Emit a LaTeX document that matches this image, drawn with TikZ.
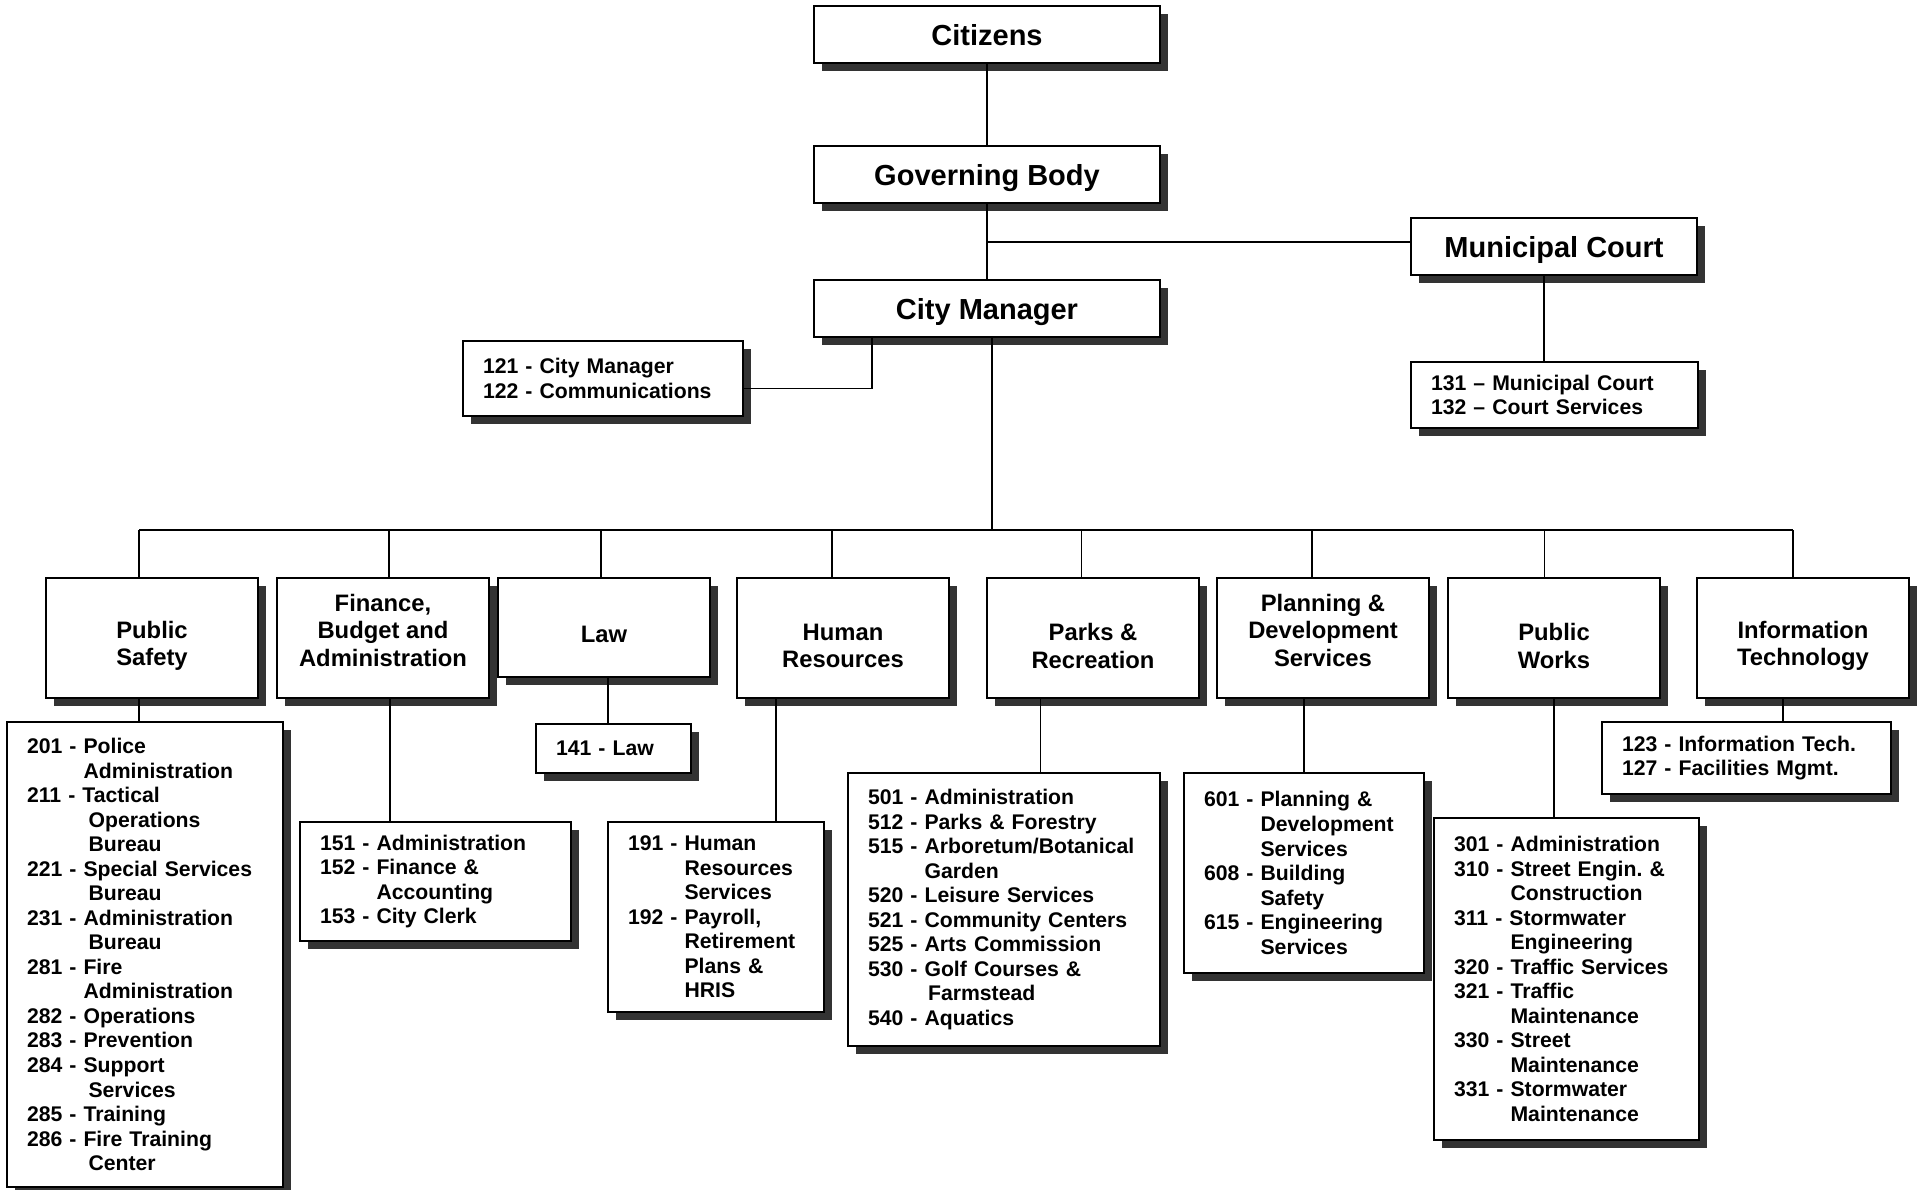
\documentclass[tikz,border=0pt]{standalone}
\usepackage{fontspec}
\setmainfont{Liberation Sans}
\usetikzlibrary{shadows}

\newcommand{\cont}{\phantom{000 - }}
\newcommand{\contx}{\cont\hspace*{3.75pt}}

\begin{document}
\begin{tikzpicture}[x=0.75pt, y=-0.75pt]

  % Styles
  \tikzset{
    box/.style={draw=black, fill=white, line width=1.4pt, outer sep=0pt, anchor=north west,
      drop shadow={shadow xshift=6pt, shadow yshift=-6pt, fill=black!80, opacity=1}},
    head/.style={box, minimum width=259.5pt, minimum height=42.75pt, text depth=0pt,
      font=\fontsize{21.75}{25}\selectfont\bfseries},
    dept/.style={box, minimum width=159pt, minimum height=90pt},
    dept text/.style={align=center, inner sep=0pt,
      font=\fontsize{17.85}{20.7}\selectfont\bfseries},
    unit/.style={box, align=left, inner xsep=15pt,
      font=\fontsize{15.9}{18.4}\selectfont\bfseries},
    link/.style={draw=black, line width=1.4pt}
  }

  \useasboundingbox (0,0) rectangle (1923,1189);

  % --- TOP OF THE CHART ---
  \node[head] (cit) at (814,6) {Citizens};
  \node[head] (gov) at (814,146) {Governing Body};
  \node[head] (cm) at (814,280) {City Manager};
  \node[head, minimum width=214.5pt] (mc) at (1411,218) {Municipal Court};

  \node[unit, text width=180pt, minimum height=56.25pt] (cmsub) at (463,341)
    {121 - City Manager\\122 - Communications};
  \node[unit, text width=185.25pt, minimum height=49.5pt] (mcsub) at (1411,362)
    {131 -- Municipal Court\\132 -- Court Services};

  % --- DEPARTMENTS ---
  \node[dept] (ps) at (46,578) {};
  \node[dept] (fin) at (277,578) {};
  \node[dept, minimum height=74.25pt] (law) at (498,578) {};
  \node[dept] (hr) at (737,578) {};
  \node[dept] (parks) at (987,578) {};
  \node[dept] (plan) at (1217,578) {};
  \node[dept] (pw) at (1448,578) {};
  \node[dept] (it) at (1697,578) {};

  \node[dept text] (pstext) at ([yshift=-6pt]ps.center) {Public\\Safety};
  \node[dept text] (fintext) at ([yshift=5.8pt]fin.center) {Finance,\\Budget and\\Administration};
  \node[dept text] (lawtext) at ([yshift=-5.5pt]law.center) {Law};
  \node[dept text] (hrtext) at ([yshift=-6pt]hr.center) {Human\\Resources};
  \node[dept text] (parkstext) at ([yshift=-6pt]parks.center) {Parks \&\\Recreation};
  \node[dept text] (plantext) at ([yshift=5.8pt]plan.center) {Planning \&\\Development\\Services};
  \node[dept text] (pwtext) at ([yshift=-6pt]pw.center) {Public\\Works};
  \node[dept text] (ittext) at ([yshift=-6pt]it.center) {Information\\Technology};

  % --- DIVISIONS ---
  \node[unit, text width=177pt, minimum height=348.75pt] (pssub) at (7,722) {
    201 - Police\\
    \cont Administration\\
    211 - Tactical\\
    \contx Operations\\
    \contx Bureau\\
    221 - Special Services\\
    \contx Bureau\\
    231 - Administration\\
    \contx Bureau\\
    281 - Fire\\
    \cont Administration\\
    282 - Operations\\
    283 - Prevention\\
    284 - Support\\
    \contx Services\\
    285 - Training\\
    286 - Fire Training\\
    \contx Center};
  \node[unit, text width=173.25pt, minimum height=89.25pt] (finsub) at (300,822) {
    151 - Administration\\
    152 - Finance \&\\
    \cont Accounting\\
    153 - City Clerk};
  \node[unit, text width=86.25pt, minimum height=36.75pt] (lawsub) at (536,724) {141 - Law};
  \node[unit, text width=132pt, minimum height=142.5pt] (hrsub) at (608,822) {
    191 - Human\\
    \cont Resources\\
    \cont Services\\
    192 - Payroll,\\
    \cont Retirement\\
    \cont Plans \&\\
    \cont HRIS};
  \node[unit, text width=204pt, minimum height=204.75pt] (parksub) at (848,773) {
    501 - Administration\\
    512 - Parks \& Forestry\\
    515 - Arboretum/Botanical\\
    \cont Garden\\
    520 - Leisure Services\\
    521 - Community Centers\\
    525 - Arts Commission\\
    530 - Golf Courses \&\\
    \cont\,Farmstead\\
    540 - Aquatics};
  \node[unit, text width=150pt, minimum height=150pt] (plansub) at (1184,773) {
    601 - Planning \&\\
    \cont Development\\
    \cont Services\\
    608 - Building\\
    \cont Safety\\
    615 - Engineering\\
    \cont Services};
  \node[unit, text width=168.75pt, minimum height=241.5pt] (pwsub) at (1434,818) {
    301 - Administration\\
    310 - Street Engin.\ \&\\
    \cont Construction\\
    311 - Stormwater\\
    \cont Engineering\\
    320 - Traffic Services\\
    321 - Traffic\\
    \cont Maintenance\\
    330 - Street\\
    \cont Maintenance\\
    331 - Stormwater\\
    \cont Maintenance};
  \node[unit, text width=186.75pt, minimum height=54pt] (itsub) at (1602,722) {
    123 - Information Tech.\\
    127 - Facilities Mgmt.};

  % --- UPPER LINKS ---
  \draw[link] (cit) -- (gov);
  \draw[link] (gov) -- (cm);
  \draw[link] ([yshift=3.4pt]mc.west) -| (gov.south);
  \draw[link] ([xshift=-7.5pt]mc.south) |- (mcsub.north);
  \draw[link] ([xshift=-86.25pt]cm.south) |- ([yshift=-7.5pt]cmsub.east);

  % --- BUS TO THE DEPARTMENTS ---
  \coordinate (busL) at (139,530);
  \coordinate (busR) at (1793,530);
  \draw[link] ([xshift=3.75pt]cm.south) -- ++(0,193);
  \draw[link] (busL) -- (busR);

  \draw[link] ([xshift=-9.75pt]ps.north) -- ++(0,-48);
  \draw[link] ([xshift=4.5pt]fin.north) -- ++(0,-48);
  \draw[link] ([xshift=-2.25pt]law.north) -- ++(0,-48);
  \draw[link] ([xshift=-8.25pt]hr.north) -- ++(0,-48);
  \draw[link] ([xshift=-8.6pt]parks.north) -- ++(0,-48);
  \draw[link] ([xshift=-8.25pt]plan.north) -- ++(0,-48);
  \draw[link] ([xshift=-7.1pt]pw.north) -- ++(0,-48);
  \draw[link] ([xshift=-7.5pt]it.north) -- ++(0,-48);

  % --- DEPARTMENTS TO DIVISIONS ---
  \draw[link] ([xshift=-9.75pt]ps.south) |- (pssub.north);
  \draw[link] ([xshift=5.25pt]fin.south) |- (finsub.north);
  \draw[link] ([xshift=3pt]law.south) |- (lawsub.north);
  \draw[link] ([xshift=-50.25pt]hr.south) |- (hrsub.north);
  \draw[link] ([xshift=-39.4pt]parks.south) |- (parksub.north);
  \draw[link] (plansub.north |- plan.south) -- (plansub.north);
  \draw[link] (pw.south) |- (pwsub.north);
  \draw[link] ([xshift=-15pt]it.south) |- (itsub.north);

\end{tikzpicture}
\end{document}
